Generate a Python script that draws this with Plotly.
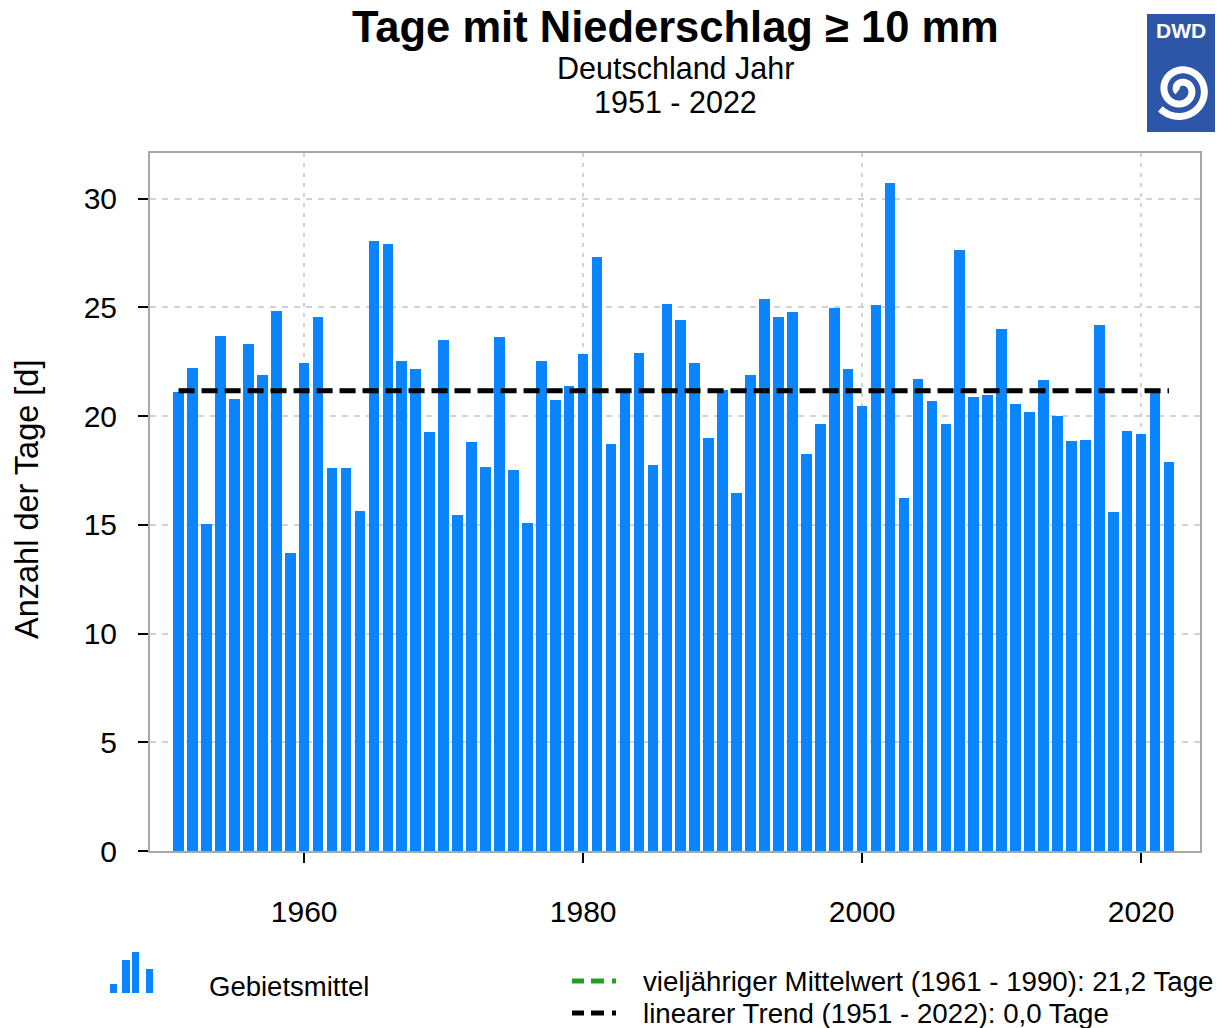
import numpy as np
import plotly.graph_objects as go

# ---------------- data ----------------
years = list(range(1951, 2023))
days = [21.1, 22.2, 15.05, 23.7, 20.8, 23.3, 21.9, 24.85, 13.7, 22.45,
        24.55, 17.6, 17.6, 15.65, 28.05, 27.9, 22.55, 22.15, 19.25, 23.5,
        15.45, 18.8, 17.65, 23.65, 17.5, 15.1, 22.55, 20.75, 21.4, 22.85,
        27.3, 18.7, 21.2, 22.9, 17.75, 25.15, 24.4, 22.45, 19.0, 21.2,
        16.45, 21.9, 25.4, 24.55, 24.8, 18.25, 19.65, 24.95, 22.15, 20.45,
        25.1, 30.7, 16.25, 21.7, 20.7, 19.65, 27.65, 20.9, 20.95, 24.0,
        20.55, 20.2, 21.65, 20.0, 18.85, 18.9, 24.2, 15.6, 19.3, 19.2,
        21.2, 17.9]
mean_years = [1951, 2022]
mean_values = [21.2, 21.2]
trend_years = [1951, 2022]
trend_values = [21.17, 21.17]
x_ticks = [1960, 1980, 2000, 2020]
y_ticks = [0, 5, 10, 15, 20, 25, 30]

title_text = "<b>Tage mit Niederschlag ≥ 10 mm</b>"
subtitle1 = "Deutschland Jahr"
subtitle2 = "1951 - 2022"
y_title = "Anzahl der Tage [d]"
legend_bar = "Gebietsmittel"
legend_mean = "vieljähriger Mittelwert (1961 - 1990): 21,2 Tage"
legend_trend = "linearer Trend (1951 - 2022): 0,0 Tage"

# ---------------- layout helpers ----------------
W, H = 1226, 1028
L, R, T, B = 150, 1200, 153, 851
FONT = "Liberation Sans, Arial, Helvetica, sans-serif"
BAR_COLOR = "#0a84ff"


def px(xp):
    return (xp - L) / (R - L)


def py(yp):
    return (B - yp) / (B - T)


fig = go.Figure()

fig.add_trace(go.Bar(x=years, y=days, width=0.76, marker=dict(color=BAR_COLOR, line=dict(width=0)),
                     showlegend=False, name=legend_bar))
fig.add_trace(go.Scatter(x=mean_years, y=mean_values, mode="lines",
                         line=dict(color="#22a022", width=2.5, dash="15px,8px"),
                         showlegend=False, name=legend_mean))
fig.add_trace(go.Scatter(x=trend_years, y=trend_values, mode="lines",
                         line=dict(color="black", width=5, dash="16px,7px"),
                         showlegend=False, name=legend_trend))

shapes = []
annotations = []

# titles
annotations.append(dict(text=title_text, x=0.5, y=py(27), xref="paper", yref="paper",
                        showarrow=False, xanchor="center", yanchor="middle",
                        font=dict(size=43.5, color="black", family=FONT)))
annotations.append(dict(text=subtitle1, x=0.5, y=py(68), xref="paper", yref="paper",
                        showarrow=False, xanchor="center", yanchor="middle",
                        font=dict(size=30.5, color="black", family=FONT)))
annotations.append(dict(text=subtitle2, x=0.5, y=py(102), xref="paper", yref="paper",
                        showarrow=False, xanchor="center", yanchor="middle",
                        font=dict(size=30.5, color="black", family=FONT)))
# y axis title
annotations.append(dict(text=y_title, x=px(27), y=py(500), xref="paper", yref="paper",
                        showarrow=False, xanchor="center", yanchor="middle", textangle=-90,
                        font=dict(size=32.5, color="black", family=FONT)))

# legend: bar icon
for (x0, x1, y0) in [(110, 117, 984), (122, 130, 960), (132, 139, 952), (146, 153, 969)]:
    shapes.append(dict(type="rect", xref="paper", yref="paper",
                       x0=px(x0), x1=px(x1), y0=py(993), y1=py(y0),
                       fillcolor=BAR_COLOR, line=dict(width=0)))
annotations.append(dict(text=legend_bar, x=px(207), y=py(986), xref="paper", yref="paper",
                        showarrow=False, xanchor="left", yanchor="middle",
                        font=dict(size=27.5, color="black", family=FONT)))
# legend: lines
for yy, col, txt in [(981, "#22a022", legend_mean), (1013, "black", legend_trend)]:
    for (a, b) in [(572, 584), (591, 604), (612, 616)]:
        shapes.append(dict(type="line", xref="paper", yref="paper",
                           x0=px(a), x1=px(b), y0=py(yy), y1=py(yy),
                           line=dict(color=col, width=5)))
    annotations.append(dict(text=txt, x=px(641), y=py(yy), xref="paper", yref="paper",
                            showarrow=False, xanchor="left", yanchor="middle",
                            font=dict(size=27.7, color="black", family=FONT)))

# DWD logo (decoration)
LOGO = "#2d56a8"
shapes.append(dict(type="rect", xref="paper", yref="paper",
                   x0=px(1147), x1=px(1215), y0=py(132), y1=py(14),
                   fillcolor=LOGO, line=dict(width=0)))
annotations.append(dict(text="<b>DWD</b>", x=px(1181), y=py(31), xref="paper", yref="paper",
                        showarrow=False, xanchor="center", yanchor="middle",
                        font=dict(size=21, color="white", family=FONT)))
th = np.linspace(0.3, 4.0 * np.pi, 200)
rad = 3 + 25 * th / th.max()
sx = 1181 + rad * np.cos(th + 2.4)
sy = 90 + rad * np.sin(th + 2.4)
path = "M " + " L ".join(f"{px(a):.5f},{py(b):.5f}" for a, b in zip(sx, sy))
shapes.append(dict(type="path", xref="paper", yref="paper", path=path,
                   line=dict(color="white", width=7)))

fig.update_layout(
    width=W, height=H,
    margin=dict(l=L, r=W - R, t=T, b=H - B, pad=0),
    paper_bgcolor="white", plot_bgcolor="white",
    font=dict(family=FONT, size=30, color="black"),
    shapes=shapes, annotations=annotations,
    bargap=0,
)
fig.update_xaxes(range=[1948.95, 2024.22], tickvals=x_ticks, ticks="outside", ticklen=10,
                 tickwidth=2, tickcolor="black", ticklabelstandoff=23,
                 showline=True, mirror=True, linecolor="#a8a8a8", linewidth=2,
                 showgrid=True, gridcolor="#d2d2d2", gridwidth=1.5, griddash="4px,6px",
                 zeroline=False, tickfont=dict(size=30, family=FONT, color="black"))
fig.update_yaxes(range=[0, 32.1], tickvals=y_ticks, ticks="outside", ticklen=10,
                 tickwidth=2, tickcolor="black", ticklabelstandoff=15,
                 showline=True, mirror=True, linecolor="#a8a8a8", linewidth=2,
                 showgrid=True, gridcolor="#d2d2d2", gridwidth=1.5, griddash="6px,6px",
                 zeroline=False, tickfont=dict(size=30, family=FONT, color="black"))

fig.write_html("out.html", config={"displayModeBar": False},
               post_script="document.body.style.margin='0px';document.body.style.overflow='hidden';")
